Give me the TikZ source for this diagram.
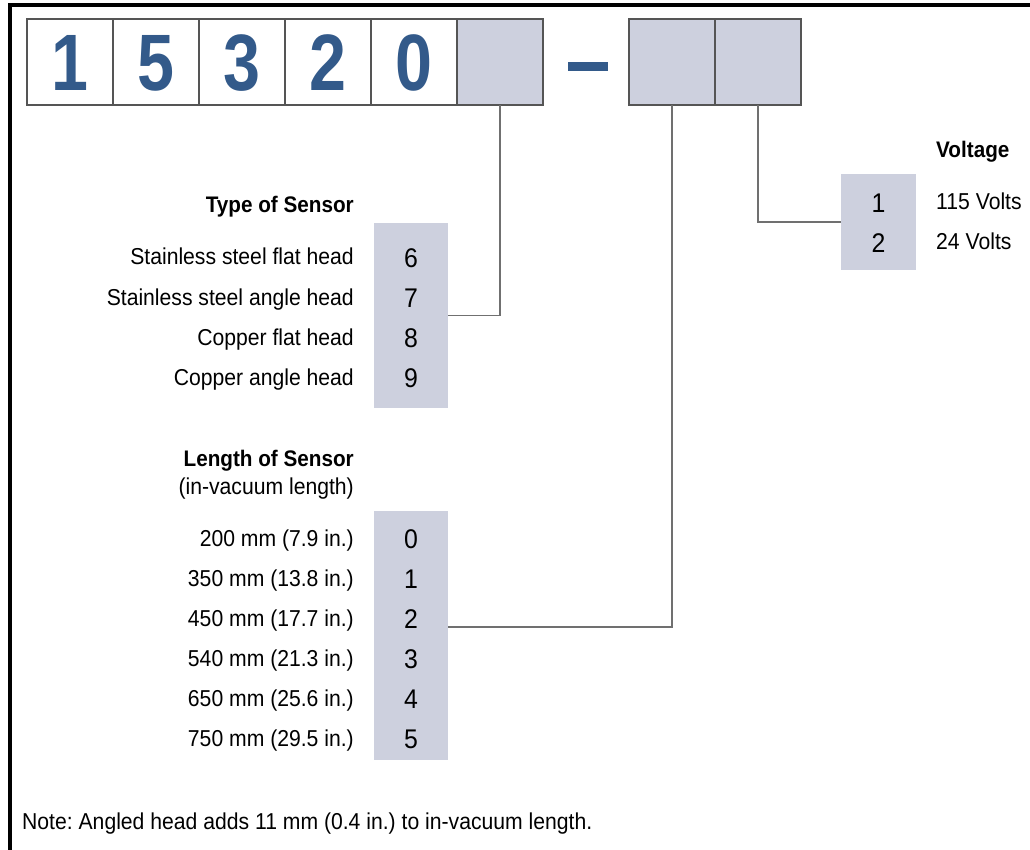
\documentclass[tikz,border=0pt]{standalone}
\usepackage{fontspec}
\setmainfont[FakeStretch=0.92]{Liberation Sans}
\newfontfamily\grosfont[FakeStretch=0.83]{Liberation Sans}
\usetikzlibrary{positioning}
\definecolor{numblue}{HTML}{335A8A}
\definecolor{cellgray}{HTML}{CDD0DE}
\definecolor{boxline}{HTML}{555555}
\definecolor{linkgray}{HTML}{707070}

\tikzset{
  cell/.style={draw=boxline, line width=1.6pt, minimum width=86pt, minimum height=86pt,
    inner sep=0pt, outer sep=0pt, text=numblue,
    font=\grosfont\fontsize{80}{80}\selectfont\bfseries, text height=57pt, text depth=0pt},
  optcell/.style={cell, fill=cellgray},
  choix/.style={fill=cellgray, inner sep=0pt, outer sep=0pt},
  code/.style={font=\fontsize{27}{27}\selectfont, text height=19pt, text depth=0pt, inner sep=0pt},
  txt/.style={font=\fontsize{23}{23}\selectfont, text height=17pt, text depth=3pt, inner sep=0pt},
  titre/.style={txt, font=\fontsize{22.5}{22.5}\selectfont\bfseries},
  lien/.style={draw=linkgray, line width=1.4pt},
}

\begin{document}
\frenchspacing
\begin{tikzpicture}[x=1pt, y=-1pt]
    \useasboundingbox (0,0) rectangle (1030,850);
    % Cadre
    \draw[line width=4pt] (9.5,850) -- (9.5,4.7) -- (1030,4.7);
    % Numéro de modèle
    \node[cell] (d1) at (70,62) {1};
    \node[cell, right=0pt of d1] (d2) {5};
    \node[cell, right=0pt of d2] (d3) {3};
    \node[cell, right=0pt of d3] (d4) {2};
    \node[cell, right=0pt of d4] (d5) {0};
    \node[optcell, right=0pt of d5] (d6) {};
    \node[fill=numblue, minimum width=40pt, minimum height=9pt, inner sep=0pt] (tiret) at (588,66.5) {};
    \node[optcell] (d7) at (672,62) {};
    \node[optcell, right=0pt of d7] (d8) {};
    % Type de capteur
    \node[choix, minimum width=74pt, minimum height=185pt] (typebox) at (411,315.5) {};
    \node[titre, anchor=east] (typetitre) at (354,206) {Type of Sensor};
    \foreach \lab/\val [count=\k from 0] in {Stainless steel flat head/6,
        Stainless steel angle head/7, Copper flat head/8, Copper angle head/9} {
      \node[code] (t\val) at (411,258+40*\k) {\val};
      \node[txt, anchor=east] (tl\val) at (354,258+40*\k) {\lab};
    }
    % Longueur du capteur
    \node[choix, minimum width=74pt, minimum height=249pt] (lenbox) at (411,635.5) {};
    \node[titre, anchor=east] (lentitre) at (354,459) {Length of Sensor};
    \node[txt, anchor=east] (lensous) at (354,487) {(in-vacuum length)};
    \foreach \lab/\val [count=\k from 0] in {200 mm (7.9 in.)/0, 350 mm (13.8 in.)/1,
        450 mm (17.7 in.)/2, 540 mm (21.3 in.)/3, 650 mm (25.6 in.)/4, 750 mm (29.5 in.)/5} {
      \node[code] (l\val) at (411,539+40*\k) {\val};
      \node[txt, anchor=east] (ll\val) at (354,539+40*\k) {\lab};
    }
    \coordinate (lenin) at (lenbox.east |- 0,627);
    % Tension
    \node[choix, minimum width=75pt, minimum height=96pt] (voltbox) at (878.5,222) {};
    \node[titre, anchor=west] (volttitre) at (936,151) {Voltage};
    \foreach \lab/\val [count=\k from 0] in {115 Volts/1, 24 Volts/2} {
      \node[code] (v\val) at (878.5,203+40*\k) {\val};
      \node[txt, anchor=west] (vl\val) at (936,203+40*\k) {\lab};
    }
    % Liaisons
    \draw[lien] (d6.south) |- (typebox.east);
    \draw[lien] (d7.south) |- (lenin);
    \draw[lien] (d8.south) |- (voltbox.west);
    % Note
    \node[txt, anchor=west] (note) at (22,822) {Note: Angled head adds 11 mm (0.4 in.) to in-vacuum length.};
\end{tikzpicture}
\end{document}
